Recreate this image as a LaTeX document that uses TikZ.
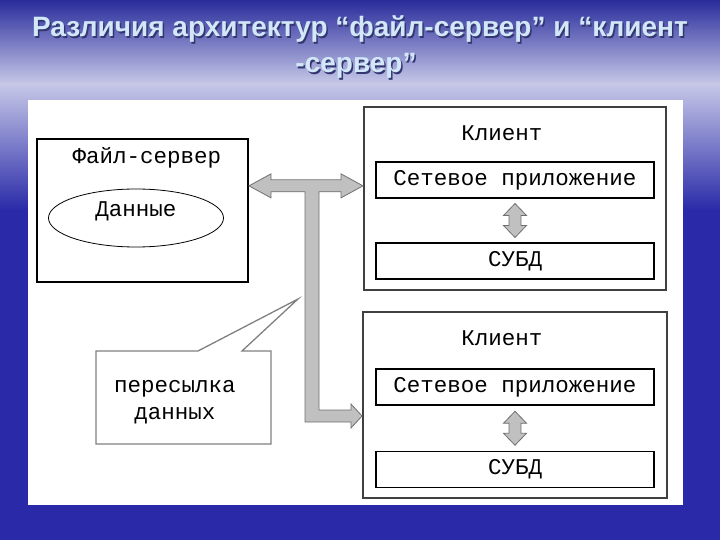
\documentclass[tikz,border=0pt]{standalone}
\usepackage{fontspec}
\setmainfont{Liberation Sans}
\setmonofont{Liberation Mono}
\usepackage{tikz}
\usetikzlibrary{calc, positioning, shapes.geometric}
\definecolor{bgdark}{HTML}{2A2C9C}
\definecolor{bgblue}{HTML}{2A2AA8}
\definecolor{bglight}{HTML}{C6C8E8}
\definecolor{titlefg}{HTML}{D2E8F8}
\definecolor{titleshadow}{HTML}{343672}
\definecolor{arrowfill}{HTML}{C0C0C0}
\definecolor{arrowline}{HTML}{707070}

\begin{document}
\begin{tikzpicture}[x=1pt, y=-1pt,
    txt/.style={font=\fontsize{22.5}{27}\selectfont\ttfamily, inner sep=0pt, align=center},
    heading/.style={font=\fontsize{28}{36}\selectfont\bfseries, text=#1, anchor=base, inner sep=0pt},
    box/.style={draw=#1, line width=2pt, fill=white, inner sep=0pt},
    inner/.style={draw=black, line width=1.3pt, fill=white, minimum width=278pt, minimum height=36pt, inner sep=0pt, font=\fontsize{22.5}{27}\selectfont\ttfamily},
    blockarrow/.style={fill=arrowfill, draw=arrowline, line width=0.8pt, line join=miter},
    vdarrow/.pic={\draw[blockarrow] (0,-17) -- (11.5,-5) -- (6,-5) -- (6,5) -- (11.5,5) -- (0,17) -- (-11.5,5) -- (-6,5) -- (-6,-5) -- (-11.5,-5) -- cycle;}
]
\useasboundingbox (0,0) rectangle (720,540);

% background
\fill[bgblue] (0,0) rectangle (720,540);
\shade[top color=bgdark, bottom color=bglight] (0,0) rectangle (720,84);
\shade[top color=bglight, bottom color=bgblue] (0,84) rectangle (720,210);
\fill[white] (28,100) rectangle (683,505);

% title
\node[heading=titleshadow] at (361.5,38.5) {Различия архитектур “файл-сервер” и “клиент};
\node[heading=titleshadow] at (357.5,74.5) {-сервер”};
\node[heading=titlefg] (title1) at (360,37) {Различия архитектур “файл-сервер” и “клиент};
\node[heading=titlefg] (title2) at (356,73) {-сервер”};

% file server
\node[box=black, minimum width=211pt, minimum height=143pt] (fileserver) at (142.5,210.5) {};
\node[txt] (fstitle) at (147,158) {Файл-сервер};
\node[draw=black, line width=0.8pt, ellipse, minimum width=175pt, minimum height=58pt, inner sep=0pt,
      font=\fontsize{22.5}{27}\selectfont\ttfamily, text depth=18pt] (data) at (136,218) {Данные};

% clients
\node[box=black!75, minimum width=302pt, minimum height=183pt] (client1) at (515,198.5) {};
\node[txt] (c1title) at (502,133) {Клиент};
\node[inner] (app1) at (515,180) {Сетевое приложение};
\node[inner] (dbms1) at (515,261) {СУБД};
\pic at ($(app1.south)!0.5!(dbms1.north)$) {vdarrow};

\node[box=black!75, minimum width=304pt, minimum height=186pt] (client2) at (515,405) {};
\node[txt] (c2title) at (502,338) {Клиент};
\node[inner] (app2) at (515,387) {Сетевое приложение};
\node[inner] (dbms2) at (515,469.5) {СУБД};
\pic at ($(app2.south)!0.5!(dbms2.north)$) {vdarrow};

% data bus
\coordinate (busL) at ($(fileserver.north east)!0.33!(fileserver.south east)$);
\coordinate (busR) at (busL -| client1.west);
\coordinate (busB) at ($(client2.west)+(0,11)$);
\draw[blockarrow] (busL) -- ++(22,-12) -- ++(0,6) -- ($(busR)+(-22,-6)$) -- ++(0,-6) -- (busR)
    -- ++(-22,12) -- ++(0,-6) -- ($(busL)+(70,6)$) |- ($(busB)+(-11,-6)$) -- ++(0,-6)
    -- (busB) -- ++(-11,12) -- ++(0,-6) -- ($(busB)+(-57,6)$) |- ($(busL)+(22,6)$) -- ++(0,6) -- cycle;

% callout
\draw[draw=black!50, line width=1.3pt, fill=white] (96,351) -- (198,351) -- (298,299) -- (242,351) -- (271,351) -- (271,444) -- (96,444) -- cycle;
\node[txt] (note) at (175,402) {пересылка\\данных};
\end{tikzpicture}
\end{document}
